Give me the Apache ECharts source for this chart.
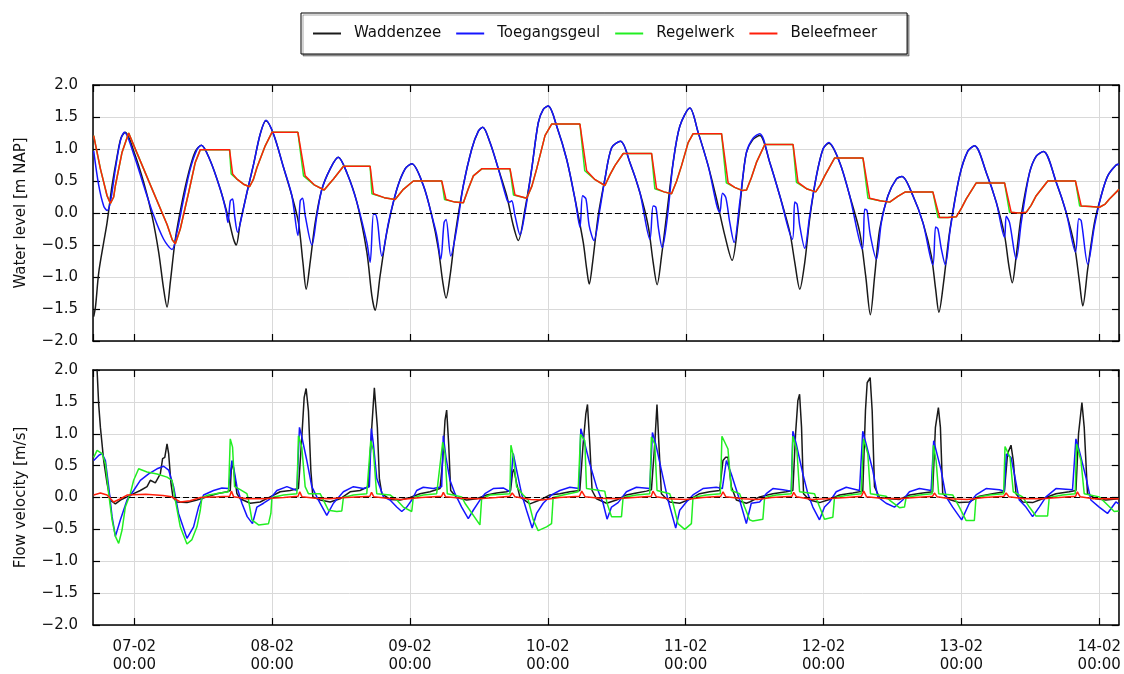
<!DOCTYPE html>
<html><head><meta charset="utf-8">
<script src="https://cdn.jsdelivr.net/npm/echarts@6/dist/echarts.min.js"></script>
<style>html,body{margin:0;padding:0;background:#fff}#c{width:1124px;height:674px}</style>
</head><body><div id="c"></div>
<script>
// ---- data: [hours since 07-02 00:00, value] ----
const seriesNames = ['Waddenzee', 'Toegangsgeul', 'Regelwerk', 'Beleefmeer'];
const seriesColors = ['#1a1a1a', '#1515ff', '#22ee22', '#ff1e0a'];
const xMinHour = -7.2, xMaxHour = 171.4;
const yMin = -2, yMax = 2, yStep = 0.5;
const levelAxisName = 'Water level [m NAP]';
const velocityAxisName = 'Flow velocity [m/s]';

const waddenzeeLevel = [[-7.08,-1.62],[-6.75,-1.45],[-6.2,-0.93],[-5.34,-0.46],[-4.75,-0.15],[-3.88,0.43],[-3.0,0.89],[-2.3,1.18],[-1.57,1.26],[-0.12,0.97],[1.62,0.48],[3.07,-0.04],[4.23,-0.61],[5.1,-1.19],[5.69,-1.47],[6.26,-1.08],[7.13,-0.41],[8.3,0.17],[9.45,0.63],[10.6,0.96],[11.65,1.06],[13.2,0.82],[14.96,0.37],[16.4,-0.09],[17.27,-0.41],[17.74,-0.5],[18.43,-0.15],[19.6,0.32],[20.75,0.76],[21.9,1.23],[22.9,1.44],[24.23,1.23],[25.97,0.71],[27.42,0.27],[28.57,-0.15],[29.34,-0.77],[29.91,-1.19],[30.6,-0.77],[31.48,-0.15],[32.64,0.37],[34.09,0.69],[35.48,0.87],[36.99,0.63],[38.73,0.17],[40.47,-0.61],[41.34,-1.29],[41.91,-1.52],[42.78,-0.98],[43.95,-0.3],[45.69,0.37],[47.13,0.69],[48.3,0.77],[50.31,0.43],[51.77,-0.04],[52.92,-0.56],[53.69,-1.08],[54.26,-1.33],[54.96,-0.98],[55.83,-0.35],[57.27,0.43],[58.73,1.0],[59.88,1.28],[60.64,1.34],[61.91,1.1],[63.36,0.69],[64.82,0.27],[65.97,-0.2],[66.83,-0.43],[68.0,0.06],[69.17,0.69],[70.31,1.41],[71.18,1.62],[72.05,1.67],[73.51,1.36],[75.25,0.84],[76.7,0.22],[78.14,-0.46],[78.73,-0.87],[79.18,-1.11],[79.77,-0.77],[80.75,-0.04],[81.91,0.53],[83.08,1.02],[84.64,1.12],[86.26,0.79],[88.0,0.32],[89.44,-0.2],[90.31,-0.77],[91.0,-1.12],[91.77,-0.67],[92.64,-0.04],[93.79,0.79],[94.96,1.36],[96.7,1.64],[98.14,1.26],[99.88,0.74],[101.34,0.22],[102.78,-0.35],[104.05,-0.74],[105.09,-0.15],[105.96,0.58],[106.56,0.95],[107.7,1.15],[108.87,1.21],[110.61,0.79],[112.35,0.27],[114.09,-0.3],[114.96,-0.77],[115.83,-1.19],[116.7,-0.77],[117.56,-0.09],[118.73,0.58],[119.88,1.0],[120.87,1.09],[122.78,0.79],[124.52,0.27],[126.26,-0.3],[127.3,-0.98],[128.12,-1.59],[128.87,-0.98],[129.74,-0.25],[131.18,0.27],[132.64,0.53],[133.62,0.57],[135.53,0.27],[137.27,-0.15],[138.73,-0.67],[139.48,-1.19],[140.05,-1.55],[140.87,-1.08],[141.91,-0.3],[143.65,0.58],[145.1,0.97],[146.26,1.05],[148.3,0.63],[150.03,0.17],[151.48,-0.35],[152.22,-0.82],[152.82,-1.09],[153.51,-0.67],[154.38,-0.04],[155.83,0.63],[157.0,0.89],[158.26,0.96],[160.47,0.48],[162.2,0.01],[163.65,-0.51],[164.52,-1.08],[165.1,-1.45],[165.96,-0.87],[167.13,-0.15],[168.3,0.27],[169.44,0.58],[170.9,0.75],[171.4,0.76]];

const toegangsgeulLevel = [[-7.08,0.97],[-6.2,0.43],[-5.34,0.11],[-4.75,0.04],[-4.17,0.17],[-3.3,0.69],[-2.43,1.13],[-1.74,1.26],[-0.12,0.92],[1.62,0.43],[3.36,-0.04],[5.1,-0.41],[6.56,-0.57],[7.42,-0.3],[8.58,0.22],[9.74,0.69],[10.9,0.99],[11.65,1.06],[13.2,0.82],[14.96,0.37],[15.9,0.05],[16.29,-0.15],[16.7,0.19],[17.1,0.22],[17.45,-0.04],[17.97,-0.3],[18.73,-0.04],[19.6,0.32],[20.75,0.76],[21.9,1.23],[22.9,1.45],[24.23,1.23],[25.97,0.71],[27.42,0.27],[28.47,-0.35],[28.87,0.19],[29.27,0.23],[29.74,-0.04],[30.9,-0.5],[31.77,-0.04],[32.64,0.37],[34.09,0.69],[35.48,0.87],[36.99,0.63],[38.73,0.17],[40.47,-0.46],[41.04,-0.77],[41.62,-0.02],[41.91,-0.02],[42.3,-0.12],[43.08,-0.67],[44.23,-0.15],[45.69,0.37],[47.13,0.69],[48.3,0.77],[50.31,0.43],[51.77,-0.04],[52.64,-0.35],[53.34,-0.72],[53.91,-0.15],[54.26,-0.1],[55.08,-0.67],[56.0,-0.3],[57.27,0.43],[58.73,1.0],[59.88,1.28],[60.64,1.34],[61.91,1.1],[63.36,0.69],[64.82,0.22],[65.27,0.17],[65.68,0.19],[66.26,-0.04],[67.13,-0.34],[68.0,0.01],[69.17,0.69],[70.31,1.41],[71.18,1.62],[72.05,1.67],[73.51,1.36],[75.25,0.84],[76.7,0.22],[77.57,-0.22],[78.03,0.27],[78.61,0.22],[79.18,-0.2],[80.0,-0.43],[81.04,0.06],[81.91,0.53],[83.08,1.02],[84.64,1.12],[86.26,0.79],[88.0,0.32],[89.74,-0.41],[90.31,0.11],[90.78,0.09],[91.25,-0.25],[91.88,-0.54],[92.75,-0.09],[93.79,0.79],[94.96,1.36],[96.7,1.64],[98.14,1.26],[99.88,0.74],[101.91,0.01],[102.38,0.31],[102.96,0.24],[103.65,-0.15],[104.4,-0.46],[105.39,0.17],[106.56,0.95],[107.7,1.17],[108.87,1.24],[110.61,0.79],[112.35,0.27],[114.55,-0.41],[114.96,0.17],[115.36,0.14],[115.83,-0.2],[116.7,-0.55],[117.56,-0.04],[118.73,0.58],[119.88,1.0],[120.87,1.1],[122.78,0.79],[124.52,0.27],[126.73,-0.56],[127.13,0.06],[127.53,0.04],[128.12,-0.35],[129.16,-0.72],[130.03,-0.15],[131.18,0.27],[132.64,0.53],[133.62,0.57],[135.53,0.27],[137.27,-0.15],[139.0,-0.81],[139.48,-0.22],[139.88,-0.25],[140.47,-0.56],[141.16,-0.81],[142.03,-0.25],[143.65,0.58],[145.1,0.97],[146.26,1.05],[148.3,0.63],[150.03,0.17],[151.48,-0.38],[151.77,-0.05],[152.35,-0.15],[153.51,-0.72],[154.38,-0.15],[155.83,0.63],[157.0,0.89],[158.26,0.96],[160.47,0.48],[162.2,0.01],[163.82,-0.61],[164.4,-0.09],[164.82,-0.12],[165.96,-0.8],[167.13,-0.2],[168.3,0.27],[169.44,0.58],[170.9,0.75],[171.4,0.76]];

const regelwerkLevel = [[-7.08,1.21],[-5.91,0.69],[-4.75,0.27],[-4.17,0.15],[-3.6,0.25],[-3.3,0.43],[-2.14,0.95],[-0.99,1.25],[-0.12,1.06],[2.78,0.44],[5.69,-0.18],[6.6,-0.42],[7.13,-0.48],[7.99,-0.25],[9.45,0.32],[10.6,0.79],[11.48,0.99],[16.57,0.99],[16.85,0.61],[17.86,0.53],[19.0,0.45],[20.05,0.41],[20.7,0.52],[21.34,0.71],[22.78,1.05],[23.95,1.26],[28.47,1.26],[29.45,0.58],[31.3,0.44],[33.04,0.36],[33.8,0.44],[34.66,0.53],[36.4,0.73],[41.04,0.73],[41.35,0.30],[43.5,0.24],[45.39,0.21],[46.83,0.37],[48.57,0.5],[53.51,0.5],[54.0,0.21],[55.8,0.17],[57.27,0.16],[58.1,0.37],[59.01,0.58],[60.47,0.69],[65.39,0.69],[66.0,0.28],[68.29,0.23],[69.2,0.42],[70.03,0.69],[71.48,1.21],[72.64,1.39],[77.56,1.39],[78.4,0.66],[80.2,0.52],[81.91,0.43],[82.8,0.6],[83.65,0.74],[85.1,0.93],[90.03,0.93],[90.6,0.38],[92.2,0.33],[93.51,0.3],[94.4,0.5],[95.25,0.74],[96.4,1.1],[97.27,1.24],[102.21,1.24],[103.05,0.47],[104.5,0.4],[105.86,0.35],[106.56,0.36],[107.4,0.55],[108.29,0.79],[109.74,1.07],[114.66,1.07],[115.25,0.48],[117.0,0.38],[118.61,0.33],[119.4,0.44],[120.17,0.58],[121.91,0.86],[126.83,0.86],[127.7,0.23],[129.8,0.19],[131.48,0.17],[132.9,0.26],[134.21,0.33],[139.0,0.33],[139.9,-0.07],[141.6,-0.07],[143.07,-0.06],[144.0,0.08],[144.81,0.22],[146.55,0.47],[151.48,0.47],[152.35,0.01],[153.9,0.0],[155.25,0.01],[156.1,0.12],[156.99,0.27],[159.0,0.5],[163.82,0.5],[164.55,0.11],[166.4,0.1],[168.0,0.09],[169.0,0.14],[169.74,0.22],[171.18,0.35],[171.4,0.37]];

const beleefmeerLevel = [[-7.08,1.21],[-5.91,0.69],[-4.75,0.27],[-4.17,0.15],[-3.6,0.25],[-3.3,0.43],[-2.14,0.95],[-0.99,1.25],[-0.12,1.06],[2.78,0.44],[5.69,-0.18],[6.6,-0.42],[7.13,-0.48],[7.99,-0.25],[9.45,0.32],[10.6,0.79],[11.48,0.99],[16.57,0.99],[17.1,0.61],[17.86,0.53],[19.0,0.45],[20.05,0.41],[20.7,0.52],[21.34,0.71],[22.78,1.05],[23.95,1.26],[28.47,1.26],[29.74,0.58],[31.3,0.44],[33.04,0.36],[33.8,0.44],[34.66,0.53],[36.4,0.73],[41.04,0.73],[41.62,0.30],[43.5,0.24],[45.39,0.21],[46.83,0.37],[48.57,0.5],[53.51,0.5],[54.26,0.21],[55.8,0.17],[57.27,0.16],[58.1,0.37],[59.01,0.58],[60.47,0.69],[65.39,0.69],[66.26,0.28],[68.29,0.23],[69.2,0.42],[70.03,0.69],[71.48,1.21],[72.64,1.39],[77.56,1.39],[78.73,0.66],[80.2,0.52],[81.91,0.43],[82.8,0.6],[83.65,0.74],[85.1,0.93],[90.03,0.93],[90.9,0.38],[92.2,0.33],[93.51,0.3],[94.4,0.5],[95.25,0.74],[96.4,1.1],[97.27,1.24],[102.21,1.24],[103.36,0.47],[104.5,0.4],[105.86,0.35],[106.56,0.36],[107.4,0.55],[108.29,0.79],[109.74,1.07],[114.66,1.07],[115.53,0.48],[117.0,0.38],[118.61,0.33],[119.4,0.44],[120.17,0.58],[121.91,0.86],[126.83,0.86],[128.0,0.23],[129.8,0.19],[131.48,0.17],[132.9,0.26],[134.21,0.33],[139.0,0.33],[140.17,-0.07],[141.6,-0.07],[143.07,-0.06],[144.0,0.08],[144.81,0.22],[146.55,0.47],[151.48,0.47],[152.64,0.01],[153.9,0.0],[155.25,0.01],[156.1,0.12],[156.99,0.27],[159.0,0.5],[163.82,0.5],[164.82,0.11],[166.4,0.1],[168.0,0.09],[169.0,0.14],[169.74,0.22],[171.18,0.35],[171.4,0.37]];

const waddenzeeVelocity = [[-7.08,2.6],[-6.49,2.0],[-6.21,1.46],[-5.91,1.1],[-5.34,0.58],[-4.75,0.22],[-4.17,-0.04],[-3.3,-0.1],[-2.43,-0.04],[-1.27,0.01],[-0.12,0.06],[1.04,0.11],[2.21,0.17],[2.78,0.27],[3.65,0.23],[4.52,0.37],[4.92,0.61],[5.3,0.63],[5.69,0.84],[5.97,0.69],[6.38,0.22],[6.73,0.0],[7.42,-0.07],[9.16,-0.08],[10.9,-0.04],[12.64,0.01],[14.38,0.06],[16.12,0.09],[16.7,0.11],[16.87,0.43],[17.1,0.56],[17.39,0.37],[17.86,0.06],[18.43,-0.02],[20.17,-0.09],[21.91,-0.07],[23.65,0.01],[25.39,0.09],[27.13,0.11],[28.57,0.14],[29.16,0.95],[29.57,1.57],[29.91,1.71],[30.31,1.36],[30.73,0.43],[31.08,0.01],[32.35,-0.04],[34.09,-0.07],[35.83,-0.02],[37.57,0.09],[39.3,0.11],[40.75,0.17],[41.34,1.1],[41.79,1.72],[42.31,1.1],[42.66,0.3],[43.08,0.06],[44.52,-0.03],[46.26,-0.04],[48.0,0.0],[49.74,0.06],[51.48,0.09],[53.22,0.14],[53.69,0.58],[54.09,1.21],[54.38,1.37],[54.73,0.84],[55.08,0.11],[56.12,0.0],[57.86,-0.04],[59.6,-0.02],[61.34,0.04],[63.08,0.07],[64.82,0.09],[65.51,0.11],[65.86,0.4],[66.09,0.44],[66.56,0.22],[67.13,0.01],[68.87,-0.1],[70.61,-0.04],[72.35,0.04],[74.09,0.06],[75.83,0.09],[77.57,0.11],[78.14,0.84],[78.61,1.31],[78.9,1.46],[79.3,0.84],[79.7,0.11],[80.47,-0.02],[82.21,-0.09],[83.95,-0.04],[85.68,0.04],[87.42,0.07],[89.16,0.1],[90.03,0.12],[90.61,0.84],[91.0,1.46],[91.36,0.79],[91.77,0.06],[93.22,-0.07],[94.96,-0.09],[96.7,-0.03],[98.43,0.06],[100.17,0.09],[101.91,0.11],[102.49,0.58],[102.96,0.63],[103.36,0.63],[103.95,0.17],[104.82,-0.04],[106.56,-0.09],[107.13,-0.07],[108.87,0.01],[111.18,0.06],[113.51,0.09],[114.66,0.11],[115.13,1.0],[115.53,1.52],[115.83,1.62],[116.17,1.1],[116.52,0.06],[117.56,-0.04],[119.3,-0.08],[121.04,-0.03],[122.78,0.04],[125.09,0.07],[126.83,0.1],[127.3,1.36],[127.6,1.8],[128.12,1.88],[128.47,1.36],[128.87,0.17],[129.74,0.0],[131.48,-0.02],[133.22,-0.03],[134.96,0.04],[137.27,0.07],[139.0,0.09],[139.48,1.1],[140.0,1.41],[140.35,1.1],[140.75,0.06],[141.91,-0.03],[143.65,-0.08],[145.39,-0.07],[147.13,0.02],[149.44,0.06],[151.48,0.09],[152.05,0.69],[152.64,0.82],[153.04,0.58],[153.51,0.06],[154.66,-0.07],[156.4,-0.08],[158.14,-0.02],[160.47,0.06],[162.78,0.09],[163.95,0.11],[164.4,1.0],[164.99,1.49],[165.39,1.1],[165.96,0.06],[167.42,-0.02],[169.16,-0.04],[171.4,-0.02]];

const toegangsgeulVelocity = [[-7.08,0.58],[-6.21,0.66],[-5.62,0.69],[-5.04,0.58],[-4.47,0.17],[-3.88,-0.3],[-3.3,-0.61],[-2.43,-0.35],[-1.27,-0.04],[-0.12,0.11],[1.04,0.27],[2.49,0.37],[3.95,0.45],[5.1,0.49],[5.97,0.43],[6.83,0.17],[7.7,-0.25],[9.16,-0.64],[10.31,-0.46],[11.18,-0.15],[12.05,0.04],[13.79,0.11],[15.25,0.15],[16.4,0.14],[16.99,0.58],[17.27,0.48],[17.86,0.17],[18.73,-0.09],[19.65,-0.3],[20.57,-0.41],[21.34,-0.15],[22.49,-0.09],[23.65,-0.02],[24.82,0.11],[26.56,0.17],[28.3,0.11],[28.75,1.1],[29.16,0.95],[30.03,0.58],[30.9,0.17],[32.05,-0.04],[33.51,-0.28],[34.66,-0.09],[36.4,0.09],[38.14,0.17],[39.88,0.14],[40.92,0.17],[41.27,1.08],[41.62,0.84],[42.21,0.3],[43.36,0.01],[44.52,-0.04],[45.69,-0.15],[46.56,-0.22],[47.43,-0.15],[48.3,-0.04],[49.16,0.11],[50.31,0.16],[52.05,0.14],[53.51,0.17],[53.79,0.97],[54.26,0.63],[54.96,0.27],[55.83,0.06],[56.99,-0.15],[58.14,-0.33],[59.01,-0.2],[60.17,-0.04],[61.04,0.06],[62.49,0.14],[64.23,0.15],[65.39,0.09],[65.97,0.69],[66.56,0.43],[67.42,0.06],[68.29,-0.2],[69.27,-0.48],[70.03,-0.25],[71.18,-0.09],[72.64,0.04],[74.09,0.11],[75.83,0.16],[77.44,0.14],[77.74,1.08],[78.14,0.95],[79.3,0.53],[80.47,0.17],[81.62,-0.09],[82.31,-0.34],[83.08,-0.15],[84.23,-0.08],[85.68,0.09],[87.42,0.16],[89.74,0.14],[90.21,1.02],[90.78,0.84],[91.77,0.43],[92.92,-0.04],[94.26,-0.48],[94.96,-0.2],[96.12,-0.07],[97.27,0.04],[99.01,0.14],[101.34,0.16],[102.38,0.14],[103.08,0.58],[103.94,0.37],[105.39,-0.04],[106.56,-0.41],[107.42,-0.09],[108.87,-0.07],[110.03,0.06],[111.18,0.14],[112.92,0.12],[114.38,0.1],[114.66,1.04],[115.25,0.84],[116.4,0.37],[117.27,0.06],[118.14,-0.15],[119.3,-0.35],[120.17,-0.15],[121.04,-0.07],[122.21,0.09],[123.95,0.16],[126.26,0.11],[126.83,1.04],[127.42,0.84],[128.57,0.43],[129.44,0.01],[130.9,-0.09],[132.35,-0.15],[133.79,-0.04],[134.96,0.09],[136.7,0.14],[138.73,0.11],[139.18,0.89],[139.6,0.74],[140.47,0.43],[141.34,0.01],[142.49,-0.15],[144.05,-0.35],[145.39,-0.09],[146.55,0.04],[148.3,0.14],[150.61,0.12],[151.48,0.1],[151.82,0.68],[152.64,0.63],[153.22,0.37],[154.08,-0.04],[155.25,-0.15],[156.4,-0.3],[157.56,-0.15],[158.73,0.01],[160.47,0.14],[163.35,0.12],[163.94,0.92],[164.52,0.74],[165.68,0.32],[166.55,-0.04],[168.0,-0.15],[169.44,-0.25],[170.9,-0.07],[171.4,-0.1]];

const regelwerkVelocity = [[-7.08,0.63],[-6.49,0.74],[-5.62,0.69],[-5.04,0.53],[-4.47,0.06],[-3.88,-0.35],[-3.3,-0.61],[-2.73,-0.72],[-2.14,-0.51],[-1.57,-0.15],[-0.7,0.06],[-0.12,0.27],[0.75,0.45],[2.21,0.4],[3.95,0.37],[5.69,0.32],[6.56,0.27],[7.13,-0.04],[8.0,-0.46],[9.16,-0.73],[10.03,-0.66],[10.9,-0.46],[11.48,-0.2],[11.77,0.0],[12.92,0.04],[14.96,0.07],[16.4,0.09],[16.7,0.92],[17.1,0.79],[17.45,0.17],[18.14,0.14],[19.6,0.06],[19.88,-0.04],[20.47,-0.35],[21.62,-0.43],[23.36,-0.41],[23.77,-0.25],[23.95,0.0],[25.97,0.04],[28.3,0.06],[28.57,0.97],[29.16,0.79],[29.74,0.17],[30.31,0.06],[32.35,0.06],[32.92,-0.04],[33.79,-0.2],[35.25,-0.22],[36.12,-0.21],[36.4,0.0],[38.14,0.04],[40.47,0.06],[41.16,0.89],[41.62,0.74],[42.09,0.17],[42.21,0.06],[44.52,0.04],[45.69,-0.04],[46.83,-0.15],[48.3,-0.22],[48.57,0.0],[50.31,0.04],[52.64,0.06],[53.69,0.87],[54.09,0.69],[54.49,0.06],[55.53,0.04],[56.99,0.01],[57.57,-0.09],[60.17,-0.43],[60.47,-0.02],[61.91,0.04],[65.39,0.06],[65.57,0.82],[65.97,0.66],[66.56,0.17],[67.71,0.04],[68.58,-0.04],[69.45,-0.35],[70.31,-0.52],[71.77,-0.46],[72.64,-0.41],[72.92,0.0],[74.66,0.04],[77.27,0.09],[77.69,0.99],[78.43,0.89],[78.73,0.14],[81.04,0.11],[81.91,0.1],[82.31,-0.09],[83.08,-0.3],[84.82,-0.3],[85.1,0.0],[87.42,0.04],[89.74,0.06],[90.03,0.95],[90.61,0.84],[91.01,0.11],[93.22,0.06],[93.79,-0.09],[94.66,-0.41],[95.83,-0.5],[96.99,-0.41],[97.27,0.0],[99.6,0.04],[102.03,0.06],[102.31,0.96],[103.36,0.76],[103.95,0.11],[105.39,0.06],[106.26,-0.15],[107.13,-0.35],[107.7,-0.37],[109.44,-0.34],[109.74,0.0],[111.77,0.04],[114.38,0.06],[114.66,0.96],[115.36,0.74],[115.83,0.09],[118.43,0.06],[118.83,-0.04],[120.17,-0.34],[121.62,-0.31],[121.91,0.0],[124.52,0.04],[126.55,0.06],[126.96,0.92],[127.7,0.69],[128.17,0.06],[130.9,0.02],[131.48,-0.04],[133.22,-0.16],[134.09,-0.15],[134.38,0.0],[136.7,0.04],[138.9,0.06],[139.13,0.82],[139.6,0.58],[140.05,0.06],[142.49,0.04],[143.65,-0.15],[144.81,-0.36],[146.26,-0.36],[146.55,0.0],[148.87,0.04],[151.36,0.06],[151.6,0.8],[152.47,0.63],[153.04,0.09],[154.66,0.01],[155.83,-0.15],[156.99,-0.29],[159.01,-0.29],[159.3,0.0],[161.62,0.04],[163.82,0.06],[164.05,0.84],[164.82,0.58],[165.39,0.06],[168.0,0.01],[169.16,-0.09],[170.61,-0.22],[171.4,-0.21]];

const beleefmeerVelocity = [[-7.08,0.04],[-5.9,0.07],[-4.75,0.04],[-3.6,-0.07],[-2.4,-0.02],[-1.2,0.04],[2,0.05],[5,0.03],[6.5,0.01],[8,-0.07],[9.7,-0.05],[11.5,0],[14.5,0.01],[16.6,0.02],[16.9,0.1],[17.3,0.01],[19.5,-0.02],[22.5,-0.02],[26,0],[28.5,0.02],[28.8,0.09],[29.2,0.01],[31.5,-0.01],[34,-0.02],[37,0.0],[41,0.02],[41.3,0.08],[41.7,0.01],[44,-0.01],[46.5,-0.03],[50,0],[53.5,0.02],[53.8,0.08],[54.2,0.01],[57,-0.01],[60,-0.02],[63,0],[65.4,0.02],[65.8,0.07],[66.3,0.01],[69,-0.03],[71,-0.04],[74,0.0],[77.5,0.02],[77.9,0.1],[78.5,0.01],[81,-0.01],[84,-0.02],[87,0],[90,0.02],[90.3,0.1],[90.9,0.01],[93,-0.02],[96,-0.03],[99,0],[102.1,0.02],[102.5,0.09],[103,0.01],[106,-0.02],[108.5,-0.03],[111,0],[114.5,0.02],[114.8,0.08],[115.3,0.01],[118,-0.03],[120.5,-0.02],[124,0],[126.6,0.02],[127,0.1],[127.5,0.01],[130,-0.01],[133,-0.02],[136,0],[139,0.02],[139.3,0.07],[139.8,0.01],[142,-0.02],[145,-0.03],[148,0],[151.4,0.02],[151.8,0.07],[152.3,0.01],[155,-0.02],[158,-0.02],[161,0],[163.9,0.02],[164.2,0.09],[164.7,0.01],[167,-0.02],[171.4,-0.02]];

// ---- chart ----
const t0 = new Date(2024, 1, 7, 0, 0, 0).getTime();
const H = 3600 * 1000;
const toTime = h => t0 + h * H;
const pad = n => (n < 10 ? '0' : '') + n;
const FONT = 'DejaVu Sans';

const xCommon = (grid, pos, labels, split) => ({
  type: 'time', gridIndex: grid, position: pos,
  min: toTime(xMinHour), max: toTime(xMaxHour),
  minInterval: 24 * H, maxInterval: 24 * H,
  axisLine: { show: true, onZero: false, lineStyle: { color: '#000', width: 1.5 } },
  axisTick: { show: true, inside: true, length: 7, lineStyle: { color: '#000', width: 1.2 } },
  splitLine: { show: split, lineStyle: { color: '#d9d9d9', width: 1 } },
  axisLabel: labels ? {
    show: true, margin: 13, fontSize: 15, lineHeight: 18, color: '#111', fontFamily: FONT,
    hideOverlap: false,
    formatter: v => {
      const d = new Date(v);
      if (d.getHours() !== 0 || d.getMinutes() !== 0) return '';
      return pad(d.getDate()) + '-' + pad(d.getMonth() + 1) + '\n' + pad(d.getHours()) + ':' + pad(d.getMinutes());
    }
  } : { show: false }
});

const yCommon = (grid, pos, labels, name) => ({
  type: 'value', gridIndex: grid, position: pos,
  min: yMin, max: yMax, interval: yStep,
  name: name || '', nameLocation: 'middle', nameGap: 64,
  nameTextStyle: { fontSize: 15, color: '#111', fontFamily: FONT },
  axisLine: { show: true, onZero: false, lineStyle: { color: '#000', width: 1.5 } },
  axisTick: { show: true, inside: true, length: 7, lineStyle: { color: '#000', width: 1.2 } },
  splitLine: { show: labels, lineStyle: { color: '#d9d9d9', width: 1 } },
  axisLabel: labels ? {
    show: true, margin: 15, fontSize: 15, color: '#111', fontFamily: FONT,
    formatter: v => (v < 0 ? '\u2212' : '') + Math.abs(v).toFixed(1)
  } : { show: false }
});

const zeroLine = {
  silent: true, symbol: ['none', 'none'], label: { show: false },
  lineStyle: { color: '#000', type: [6, 3], width: 1.2 },
  data: [{ yAxis: 0 }]
};

const mk = (idx, arr, axisIdx, smooth, withZero) => ({
  name: seriesNames[idx], type: 'line', xAxisIndex: axisIdx, yAxisIndex: axisIdx,
  data: arr.map(p => [toTime(p[0]), p[1]]),
  showSymbol: false, symbol: 'none', smooth: smooth, clip: true,
  lineStyle: { color: seriesColors[idx], width: 1.5 },
  itemStyle: { color: seriesColors[idx] },
  markLine: withZero ? zeroLine : undefined,
  z: 2 + idx
});

const chart = echarts.init(document.getElementById('c'), null, { renderer: 'canvas' });
chart.setOption({
  animation: false,
  backgroundColor: '#fff',
  textStyle: { fontFamily: FONT },
  legend: {
    data: seriesNames.map((n, i) => ({ name: n, icon: 'rect', itemStyle: { color: seriesColors[i] } })),
    left: 301, top: 13, orient: 'horizontal',
    itemWidth: 28, itemHeight: 2, itemGap: 15,
    padding: [13, 30, 13, 12],
    borderColor: '#000', borderWidth: 1, borderRadius: 0, backgroundColor: '#fff',
    shadowColor: 'rgba(0,0,0,0.35)', shadowOffsetX: 2, shadowOffsetY: 2, shadowBlur: 0,
    textStyle: { fontSize: 15, color: '#111', fontFamily: FONT, padding: [0, 0, 0, 8] }
  },
  grid: [
    { left: 93, right: 5, top: 85, height: 256 },
    { left: 93, right: 5, top: 370, height: 257 }
  ],
  xAxis: [
    xCommon(0, 'bottom', false, true),
    xCommon(1, 'bottom', true, true),
    xCommon(0, 'top', false, false),
    xCommon(1, 'top', false, false)
  ],
  yAxis: [
    yCommon(0, 'left', true, levelAxisName),
    yCommon(1, 'left', true, velocityAxisName),
    yCommon(0, 'right', false),
    yCommon(1, 'right', false)
  ],
  series: [
    mk(0, waddenzeeLevel, 0, 0.3, true),
    mk(1, toegangsgeulLevel, 0, 0.3, false),
    mk(2, regelwerkLevel, 0, false, false),
    mk(3, beleefmeerLevel, 0, false, false),
    mk(0, waddenzeeVelocity, 1, false, true),
    mk(1, toegangsgeulVelocity, 1, false, false),
    mk(2, regelwerkVelocity, 1, false, false),
    mk(3, beleefmeerVelocity, 1, false, false)
  ]
});
</script>
</body></html>
